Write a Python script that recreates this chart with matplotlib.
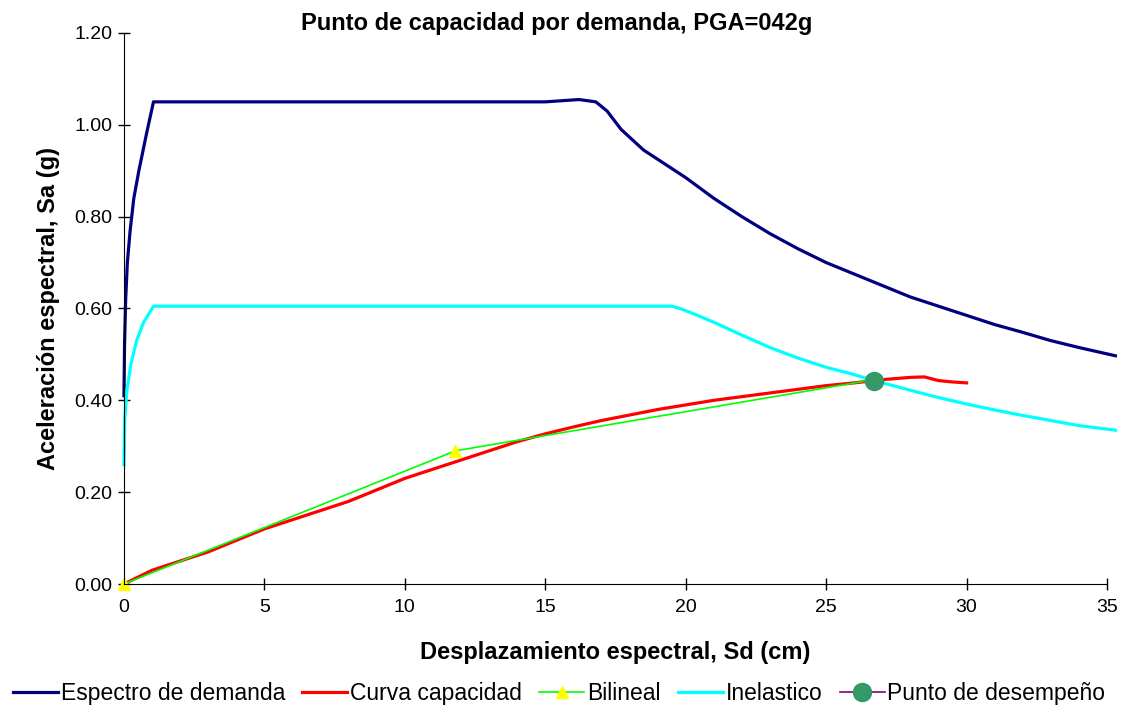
import numpy as np
import matplotlib
matplotlib.use("Agg")
import matplotlib.pyplot as plt

plt.rcParams['font.family'] = ['Liberation Sans', 'DejaVu Sans']

# Espectro de demanda (Sd cm, Sa g)
sd_demanda = [0, 0.02, 0.06, 0.12, 0.22, 0.35, 0.53, 0.8, 1.05, 5, 10, 15, 16.2, 16.8,
              17.2, 17.7, 18.5, 19.5, 20, 21, 22, 23, 24, 25, 26, 27, 28, 29, 30, 31,
              32, 33, 34, 35.3]
sa_demanda = [0.41, 0.52, 0.62, 0.70, 0.77, 0.84, 0.90, 0.98, 1.05, 1.05, 1.05, 1.05, 1.055, 1.05,
              1.03, 0.99, 0.945, 0.905, 0.885, 0.84, 0.80, 0.763, 0.73, 0.70, 0.675, 0.65, 0.625,
              0.605, 0.585, 0.565, 0.548, 0.53, 0.515, 0.497]

# Curva capacidad
sd_cap = [0, 1, 2, 3, 4, 5, 6, 7, 8, 9, 10, 11, 12, 13, 14, 15, 16, 17, 18, 19, 20,
          21, 22, 23, 24, 25, 26, 27, 28, 28.5, 29, 29.5, 30]
sa_cap = [0, 0.03, 0.05, 0.07, 0.095, 0.12, 0.14, 0.16, 0.18, 0.205, 0.23, 0.25, 0.27,
          0.29, 0.31, 0.327, 0.342, 0.356, 0.368, 0.38, 0.39, 0.40, 0.408, 0.416, 0.424,
          0.432, 0.438, 0.445, 0.45, 0.451, 0.443, 0.44, 0.438]

# Bilineal
sd_bil = [0, 11.8, 26.7]
sa_bil = [0, 0.29, 0.445]

# Inelastico
sd_inel = [0, 0.03, 0.1, 0.25, 0.45, 0.7, 1.05, 10, 19.5, 19.8, 20.3, 21, 22, 23, 24, 25, 26,
           26.7, 28, 29, 30, 31, 32, 33, 34, 35.3]
sa_inel = [0.26, 0.36, 0.42, 0.48, 0.53, 0.57, 0.605, 0.605, 0.605, 0.6, 0.588, 0.57, 0.542,
           0.515, 0.492, 0.472, 0.456, 0.443, 0.422, 0.406, 0.392, 0.379, 0.367, 0.356,
           0.345, 0.335]

# Punto de desempeño
sd_punto = [26.7]
sa_punto = [0.442]

fig = plt.figure(figsize=(11.25, 7.06), dpi=100)
ax = fig.add_axes([0.1102, 0.1728, 0.8738, 0.7805])

ax.plot(sd_demanda, sa_demanda, color='#000080', lw=2.3, label='Espectro de demanda', clip_on=False)
ax.plot(sd_cap, sa_cap, color='#FF0000', lw=2.3, label='Curva capacidad', clip_on=False)
ax.plot(sd_bil, sa_bil, color='#00FF00', lw=1.2, marker='^', ms=8, mfc='#FFFF00', mec='#FFFF00',
        label='Bilineal', clip_on=False)
ax.plot(sd_inel, sa_inel, color='#00FFFF', lw=2.3, label='Inelastico', clip_on=False)
ax.plot(sd_punto, sa_punto, color='#800080', lw=1.2, marker='o', ms=13, mfc='#339966',
        mec='#339966', label='Punto de desempeño', clip_on=False, zorder=5)

ax.set_xlim(0, 35)
ax.set_ylim(0, 1.2)
ax.set_xticks(np.arange(0, 36, 5))
ax.set_yticks(np.arange(0, 1.21, 0.2))
ax.set_yticklabels(['%.2f' % v for v in np.arange(0, 1.21, 0.2)])
ax.tick_params(direction='inout', length=9, width=1, labelsize=14)
ax.tick_params(axis='x', pad=6)
ax.tick_params(axis='y', pad=4)
ax.spines['top'].set_visible(False)
ax.spines['right'].set_visible(False)

fig.text(0.495, 0.967, 'Punto de capacidad por demanda, PGA=042g', fontsize=17,
         fontweight='bold', ha='center', va='center')
ax.set_xlabel('Desplazamiento espectral, Sd (cm)', fontsize=17, fontweight='bold', labelpad=18)
ax.set_ylabel('Aceleración espectral, Sa (g)', fontsize=17, fontweight='bold', labelpad=10)

fig.legend(loc='lower center', bbox_to_anchor=(0.497, -0.018), ncol=5, frameon=False,
           fontsize=16.5, handlelength=1.96, handletextpad=0.13, columnspacing=0.75,
           borderaxespad=0.2)

fig.savefig('out.png', dpi=100)
